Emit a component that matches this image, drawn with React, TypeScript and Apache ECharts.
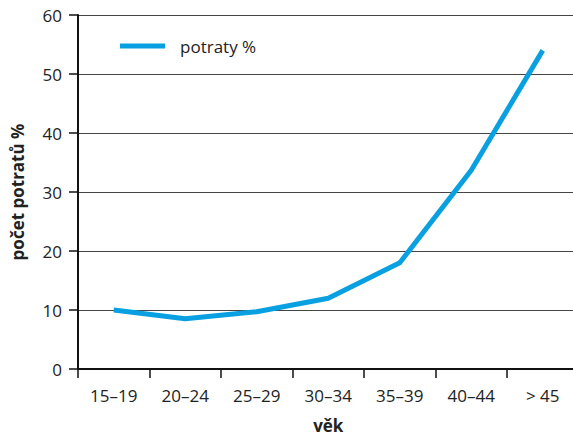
import React, { useEffect, useRef } from "react";
import * as echarts from "echarts";

const categories = ["15–19", "20–24", "25–29", "30–34", "35–39", "40–44", "> 45"];
const potraty = [10.0, 8.5, 9.7, 12.0, 18.0, 33.7, 54.0];
const yTicks = { min: 0, max: 60, interval: 10 };

const FONT = "'Open Sans', 'Noto Sans', sans-serif";

export default function App() {
  const ref = useRef<HTMLDivElement>(null);
  useEffect(() => {
    if (!ref.current) return;
    const chart = echarts.init(ref.current, undefined, { renderer: "svg" });
    chart.setOption({
      animation: false,
      backgroundColor: "#ffffff",
      textStyle: { fontFamily: FONT },
      grid: {
        left: 78,
        top: 15,
        right: -5.5,
        bottom: 68,
        containLabel: false,
        outerBoundsMode: "none",
      },
      legend: {
        show: true,
        left: 115,
        top: 31,
        icon: "rect",
        itemWidth: 45,
        itemHeight: 5,
        textStyle: {
          fontSize: 17,
          lineHeight: 20,
          color: "#222",
          fontFamily: FONT,
          padding: [0, 0, 0, 10],
        },
        data: ["potraty %"],
      },
      xAxis: {
        type: "category",
        data: categories,
        boundaryGap: true,
        name: "věk",
        nameLocation: "middle",
        nameGap: 48,
        nameTextStyle: { fontSize: 17, fontWeight: "bold", color: "#222", fontFamily: FONT },
        axisLine: { show: true, lineStyle: { color: "#111", width: 2 } },
        axisTick: { show: true, length: 9, inside: false, lineStyle: { color: "#111", width: 1.5 } },
        axisLabel: { fontSize: 17, color: "#222", margin: 18, fontFamily: FONT },
        splitLine: { show: false },
      },
      yAxis: {
        type: "value",
        min: yTicks.min,
        max: yTicks.max,
        interval: yTicks.interval,
        name: "počet potratů %",
        nameLocation: "middle",
        nameGap: 52,
        nameRotate: 90,
        nameTextStyle: { fontSize: 17, fontWeight: "bold", color: "#222", fontFamily: FONT },
        axisLine: { show: true, lineStyle: { color: "#111", width: 2 } },
        axisTick: { show: true, length: 9, inside: false, lineStyle: { color: "#111", width: 1.5 } },
        axisLabel: { fontSize: 17, color: "#222", margin: 16, fontFamily: FONT },
        splitLine: { show: true, lineStyle: { color: "#444", width: 1.2 } },
      },
      series: [
        {
          name: "potraty %",
          type: "line",
          data: potraty,
          showSymbol: false,
          symbol: "none",
          smooth: false,
          color: "#08a0e0",
          lineStyle: { color: "#08a0e0", width: 5 },
        },
      ],
    });
    return () => chart.dispose();
  }, []);
  return (
    <div
      ref={ref}
      style={{ position: "fixed", left: 0, top: 0, width: 573, height: 437, background: "#fff" }}
    />
  );
}
